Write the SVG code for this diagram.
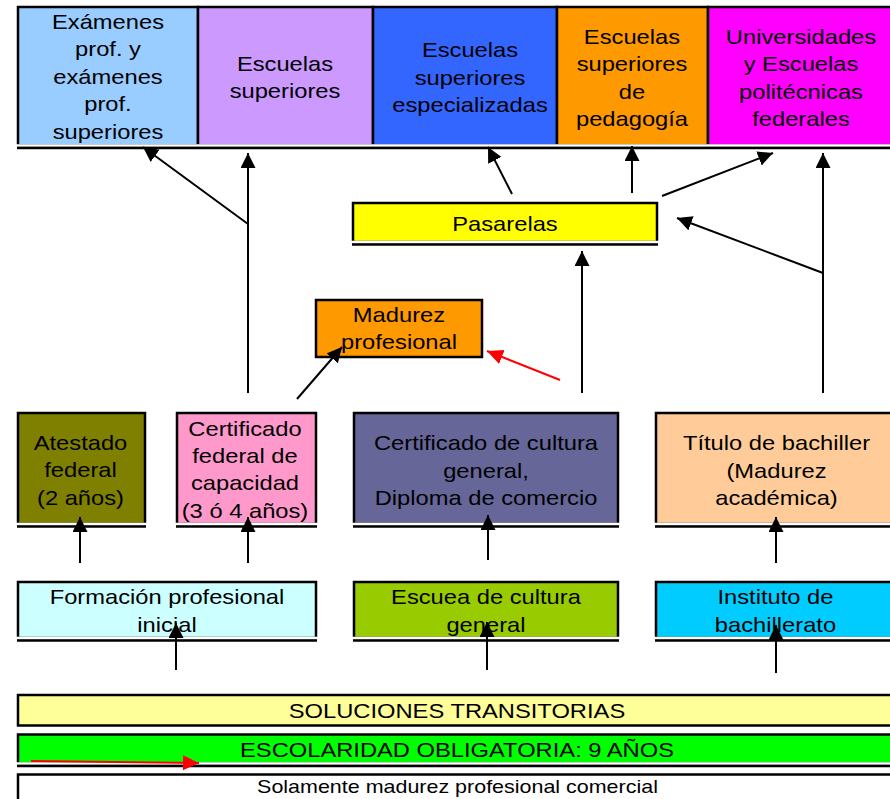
<svg xmlns="http://www.w3.org/2000/svg" width="890" height="799" viewBox="0 0 890 799">
<defs>
<style>
.box{stroke:#000;stroke-width:2.5}
.wl{stroke:#fff;stroke-width:2.6}
.bl{stroke:#000;stroke-width:2.4}
.t{font-family:"Liberation Sans",Arial,sans-serif;font-size:21px;fill:#000;text-anchor:middle}
.ts{font-size:19px}
.c{stroke:#000;stroke-width:2;fill:none;marker-end:url(#ah)}
.cr{stroke:#f00;stroke-width:2;fill:none;marker-end:url(#ahr)}
</style>
<marker id="ah" markerUnits="userSpaceOnUse" markerWidth="16" markerHeight="16" refX="15" refY="7.5" orient="auto">
<path d="M0,0 L15,7.5 L0,15 Z" fill="#000"/>
</marker>
<marker id="ahr" markerUnits="userSpaceOnUse" markerWidth="17" markerHeight="16" refX="16" refY="7.5" orient="auto">
<path d="M0,0 L16,7.5 L0,15 Z" fill="#f00"/>
</marker>
</defs>
<rect width="890" height="799" fill="#fff"/>

<!-- Top row -->
<g id="examenes">
<rect class="box" x="18" y="7" width="180" height="138.5" fill="#99CCFF"/>
<text class="t" transform="matrix(1.13 0 0 1 0 0)"><tspan x="95.58" y="29">Exámenes</tspan><tspan x="95.58" y="56.5">prof. y</tspan><tspan x="95.58" y="84">exámenes</tspan><tspan x="95.58" y="111.5">prof.</tspan><tspan x="95.58" y="139">superiores</tspan></text>
</g>
<g id="escuelas-superiores">
<rect class="box" x="198" y="7" width="175" height="138.5" fill="#CC99FF"/>
<text class="t" transform="matrix(1.13 0 0 1 0 0)"><tspan x="252.21" y="71">Escuelas</tspan><tspan x="252.21" y="98.5">superiores</tspan></text>
</g>
<g id="escuelas-especializadas">
<rect class="box" x="373" y="7" width="184" height="138.5" fill="#3366FF"/>
<text class="t" transform="matrix(1.13 0 0 1 0 0)"><tspan x="415.93" y="57.5">Escuelas</tspan><tspan x="415.93" y="85">superiores</tspan><tspan x="415.93" y="112.5">especializadas</tspan></text>
</g>
<g id="escuelas-pedagogia">
<rect class="box" x="557" y="7" width="151" height="138.5" fill="#FF9900"/>
<text class="t" transform="matrix(1.13 0 0 1 0 0)"><tspan x="559.29" y="44.5">Escuelas</tspan><tspan x="559.29" y="71.5">superiores</tspan><tspan x="559.29" y="99">de</tspan><tspan x="559.29" y="126.5">pedagogía</tspan></text>
</g>
<g id="universidades">
<rect class="box" x="708" y="7" width="195" height="138.5" fill="#FF00FF"/>
<text class="t" transform="matrix(1.13 0 0 1 0 0)"><tspan x="708.85" y="44.5">Universidades</tspan><tspan x="708.85" y="71.5">y Escuelas</tspan><tspan x="708.85" y="99">politécnicas</tspan><tspan x="708.85" y="126.5">federales</tspan></text>
</g>
<line class="wl" x1="16" y1="145.5" x2="890" y2="145.5"/>
<line class="bl" x1="17" y1="148" x2="890" y2="148"/>

<!-- Pasarelas -->
<g id="pasarelas">
<rect class="box" x="353" y="203" width="304" height="39" fill="#FFFF00"/>
<line class="wl" x1="351" y1="242" x2="659" y2="242"/>
<line class="bl" x1="352" y1="244.5" x2="658" y2="244.5"/>
<text class="t" transform="matrix(1.13 0 0 1 0 0)"><tspan x="446.90" y="231.5">Pasarelas</tspan></text>
</g>

<!-- Madurez profesional -->
<g id="madurez">
<rect class="box" x="316" y="300" width="166" height="57" fill="#FF9900"/>
<text class="t" transform="matrix(1.13 0 0 1 0 0)"><tspan x="353.10" y="322">Madurez</tspan><tspan x="353.10" y="349">profesional</tspan></text>
</g>

<!-- Middle row -->
<g id="atestado">
<rect class="box" x="18" y="413" width="127" height="111" fill="#808000"/>
<line class="wl" x1="16" y1="524" x2="147" y2="524"/>
<line class="bl" x1="17" y1="526.5" x2="146" y2="526.5"/>
<text class="t" transform="matrix(1.13 0 0 1 0 0)"><tspan x="71.24" y="450">Atestado</tspan><tspan x="71.24" y="477.5">federal</tspan><tspan x="71.24" y="505">(2 años)</tspan></text>
</g>
<g id="certificado-federal">
<rect class="box" x="177" y="413" width="139" height="111" fill="#FF99CC"/>
<line class="wl" x1="175" y1="524" x2="318" y2="524"/>
<line class="bl" x1="176" y1="526.5" x2="317" y2="526.5"/>
<text class="t" transform="matrix(1.13 0 0 1 0 0)"><tspan x="216.81" y="436">Certificado</tspan><tspan x="216.81" y="463">federal de</tspan><tspan x="216.81" y="490.5">capacidad</tspan><tspan x="216.81" y="518">(3 ó 4 años)</tspan></text>
</g>
<g id="certificado-cultura">
<rect class="box" x="354" y="413" width="264" height="111" fill="#666699"/>
<line class="wl" x1="352" y1="524" x2="620" y2="524"/>
<line class="bl" x1="353" y1="526.5" x2="619" y2="526.5"/>
<text class="t" transform="matrix(1.13 0 0 1 0 0)"><tspan x="430.09" y="450">Certificado de cultura</tspan><tspan x="430.09" y="478">general,</tspan><tspan x="430.09" y="505">Diploma de comercio</tspan></text>
</g>
<g id="titulo-bachiller">
<rect class="box" x="656" y="413" width="245" height="111" fill="#FFCC99"/>
<line class="wl" x1="654" y1="524" x2="890" y2="524"/>
<line class="bl" x1="655" y1="526.5" x2="890" y2="526.5"/>
<text class="t" transform="matrix(1.13 0 0 1 0 0)"><tspan x="687.17" y="450">Título de bachiller</tspan><tspan x="687.17" y="478">(Madurez</tspan><tspan x="687.17" y="505.5">académica)</tspan></text>
</g>

<!-- Bottom row -->
<g id="formacion">
<rect class="box" x="18" y="582" width="298" height="56" fill="#CCFFFF"/>
<line class="wl" x1="16" y1="638" x2="318" y2="638"/>
<line class="bl" x1="17" y1="640.5" x2="317" y2="640.5"/>
<text class="t" transform="matrix(1.13 0 0 1 0 0)"><tspan x="147.79" y="604">Formación profesional</tspan><tspan x="147.79" y="632">inicial</tspan></text>
</g>
<g id="escuela-cultura">
<rect class="box" x="354" y="582" width="264" height="56" fill="#99CC00"/>
<line class="wl" x1="352" y1="638" x2="620" y2="638"/>
<line class="bl" x1="353" y1="640.5" x2="619" y2="640.5"/>
<text class="t" transform="matrix(1.13 0 0 1 0 0)"><tspan x="430.09" y="604">Escuea de cultura</tspan><tspan x="430.09" y="632">general</tspan></text>
</g>
<g id="instituto">
<rect class="box" x="656" y="582" width="245" height="56" fill="#00CCFF"/>
<line class="wl" x1="654" y1="638" x2="890" y2="638"/>
<line class="bl" x1="655" y1="640.5" x2="890" y2="640.5"/>
<text class="t" transform="matrix(1.13 0 0 1 0 0)"><tspan x="686.28" y="604">Instituto de</tspan><tspan x="686.28" y="632">bachillerato</tspan></text>
</g>

<!-- Bands -->
<g id="soluciones">
<rect class="box" x="18" y="695" width="885" height="30.5" fill="#FFFF99"/>
<text class="t" transform="matrix(1.13 0 0 1 0 0)"><tspan x="404.42" y="718.5">SOLUCIONES TRANSITORIAS</tspan></text>
</g>
<g id="escolaridad">
<rect class="box" x="18" y="734.5" width="885" height="29" fill="#00FF00"/>
<line class="wl" x1="16" y1="763.5" x2="890" y2="763.5"/>
<line class="bl" x1="17" y1="766" x2="890" y2="766"/>
<text class="t" transform="matrix(1.13 0 0 1 0 0)"><tspan x="404.42" y="757">ESCOLARIDAD OBLIGATORIA: 9 AÑOS</tspan></text>
</g>
<g id="solamente">
<rect class="box" x="18" y="774.5" width="885" height="40" fill="#FFFFFF"/>
<text class="t ts" transform="matrix(1.13 0 0 1 0 0)"><tspan x="404.87" y="793">Solamente madurez profesional comercial</tspan></text>
</g>

<!-- Connectors -->
<g id="connectors">
<line class="c" x1="248" y1="393" x2="248" y2="153"/>
<line class="c" x1="248" y1="224" x2="143" y2="147"/>
<line class="c" x1="297" y1="399" x2="342" y2="347"/>
<line class="c" x1="582" y1="393" x2="582" y2="251"/>
<line class="cr" x1="560" y1="380" x2="487" y2="351"/>
<line class="c" x1="512" y1="194" x2="488" y2="147"/>
<line class="c" x1="632" y1="193" x2="632" y2="146"/>
<line class="c" x1="662" y1="196" x2="773" y2="153"/>
<line class="c" x1="823" y1="393" x2="823" y2="153"/>
<line class="c" x1="823" y1="273" x2="677" y2="218"/>
<line class="c" x1="80" y1="563" x2="80" y2="517"/>
<line class="c" x1="248" y1="563" x2="248" y2="517"/>
<line class="c" x1="488" y1="560" x2="488" y2="515"/>
<line class="c" x1="776" y1="563" x2="776" y2="517"/>
<line class="c" x1="176" y1="670" x2="176" y2="623"/>
<line class="c" x1="487" y1="670" x2="487" y2="622"/>
<line class="c" x1="776" y1="673" x2="776" y2="625"/>
<line class="cr" x1="31" y1="761" x2="199" y2="763"/>
</g>
</svg>
